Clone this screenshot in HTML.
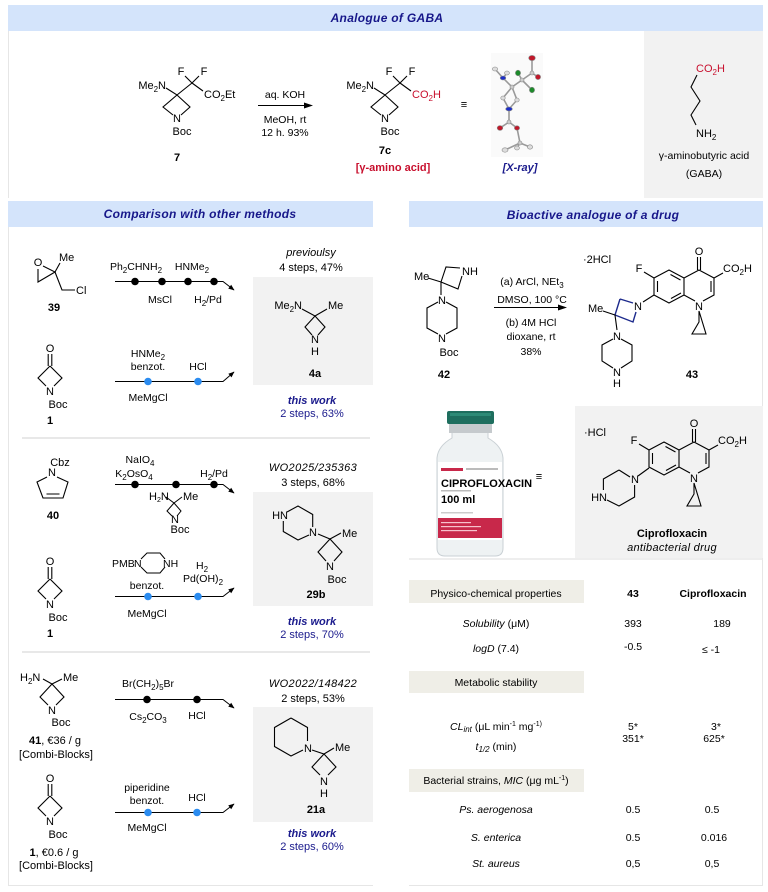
<!DOCTYPE html>
<html><head><meta charset="utf-8">
<style>
html,body{margin:0;padding:0;background:#fff;}
svg{display:block;}
text{font-family:"Liberation Sans",Arial,sans-serif;font-size:11px;fill:#000;}
.c{text-anchor:middle;}
.e{text-anchor:end;}
.b{font-weight:bold;}
.i{font-style:italic;}
.hd{font-weight:bold;font-style:italic;font-size:12px;fill:#17178a;text-anchor:middle;letter-spacing:0.3px;}
.nv{fill:#1a1a8c;}
.rd{fill:#c8102e;}
.s{font-size:10.5px;}
.bd{stroke:#000;stroke-width:1.1;fill:none;}
.sq{stroke:#000;stroke-width:1;fill:none;}
.xb{stroke:#9a9a9a;stroke-width:1.6;fill:none;}
</style></head><body>
<svg width="768" height="892" viewBox="0 0 768 892" xmlns="http://www.w3.org/2000/svg">
<defs>
<marker id="a" viewBox="0 0 10 10" refX="9" refY="5" markerWidth="7" markerHeight="6" markerUnits="userSpaceOnUse" orient="auto"><path d="M0,1 L10,5 L0,9 z" fill="#000"/></marker>
</defs>

<!-- ===== Panels ===== -->
<rect x="8" y="5" width="755" height="26" fill="#d4e4fb"/>
<line x1="8.5" y1="31" x2="8.5" y2="198" stroke="#e6e6e6"/>
<rect x="644" y="31" width="119" height="167" fill="#f2f2f2"/>
<text class="hd" x="387" y="22">Analogue of GABA</text>

<rect x="8" y="201" width="365" height="26" fill="#d4e4fb"/>
<text class="hd" x="200" y="218">Comparison with other methods</text>
<line x1="8.5" y1="227" x2="8.5" y2="885" stroke="#e6e6e6"/>
<line x1="8" y1="885.5" x2="373" y2="885.5" stroke="#e6e6e6"/>
<line x1="22" y1="438" x2="370" y2="438" stroke="#e8e8e8" stroke-width="2"/>
<line x1="22" y1="652" x2="370" y2="652" stroke="#e8e8e8" stroke-width="2"/>

<rect x="409" y="201" width="354" height="26" fill="#d4e4fb"/>
<text class="hd" x="593" y="219">Bioactive analogue of a drug</text>
<line x1="762.5" y1="227" x2="762.5" y2="885" stroke="#e6e6e6"/>
<line x1="409" y1="885.5" x2="763" y2="885.5" stroke="#e6e6e6"/>
<line x1="409" y1="559" x2="763" y2="559" stroke="#e8e8e8" stroke-width="1.5"/>
<rect x="575" y="406" width="188" height="152" fill="#f2f2f2"/>

<!-- ===== Top: compound 7 ===== -->
<text class="e" x="166" y="89">Me<tspan font-size="8" dy="3">2</tspan><tspan dy="-3">N</tspan></text>
<path class="bd" d="M166,88 L177,95 L192,83 M177,95 L163,107 L173,115 M177,95 L190,107 L181,115 M192,83 L185,76 M192,83 L199,76 M192,83 L203,91"/>
<text class="c" x="181" y="75">F</text>
<text class="c" x="204" y="75">F</text>
<text x="204" y="98">CO<tspan font-size="8" dy="3">2</tspan><tspan dy="-3">Et</tspan></text>
<text class="c" x="177" y="122">N</text>
<text class="c" x="182" y="135">Boc</text>
<text class="c b" x="177" y="161">7</text>

<!-- arrow -->
<line x1="258" y1="105.5" x2="305" y2="105.5" stroke="#000" stroke-width="1"/>
<path d="M313,105.5 L304,102.5 L304,108.5 z" fill="#000"/>
<text class="c s" x="285" y="98">aq. KOH</text>
<text class="c s" x="285" y="123">MeOH, rt</text>
<text class="c s" x="285" y="136">12 h. 93%</text>

<!-- compound 7c -->
<text class="e" x="374" y="89">Me<tspan font-size="8" dy="3">2</tspan><tspan dy="-3">N</tspan></text>
<path class="bd" d="M374,88 L385,95 L400,83 M385,95 L371,107 L381,115 M385,95 L398,107 L389,115 M400,83 L393,76 M400,83 L407,76 M400,83 L411,91"/>
<text class="c" x="389" y="75">F</text>
<text class="c" x="412" y="75">F</text>
<text class="rd" x="412" y="98">CO<tspan font-size="8" dy="3">2</tspan><tspan dy="-3">H</tspan></text>
<text class="c" x="385" y="122">N</text>
<text class="c" x="390" y="135">Boc</text>
<text class="c b" x="385" y="154">7c</text>
<text class="c b rd" x="393" y="171" font-size="10.5">[γ-amino acid]</text>

<text class="c" x="464" y="108" fill="#666">≡</text>

<!-- X-ray -->
<rect x="491" y="53" width="52" height="104" fill="#fafafa"/>
<path class="xb" d="M495,69 L503,78 M507,73 L503,78 L512,87 L522,80 L518,73 M522,80 L532,90 M522,80 L532,73 L532,58 M532,73 L538,77 M512,87 L503,98 L509,109 M512,87 L517,100 L509,109 L509,122 L500,128 M509,122 L517,128 L520,143 L505,150 M520,143 L517,148 M520,143 L530,147"/>
<g stroke="#888" stroke-width="0.6">
<ellipse cx="532" cy="58" rx="3.3" ry="2.6" fill="#c0182a"/>
<ellipse cx="538" cy="77" rx="2.6" ry="2.6" fill="#c0182a"/>
<ellipse cx="532" cy="73" rx="2" ry="2" fill="#ccc"/>
<ellipse cx="518" cy="73" rx="2.6" ry="2.8" fill="#1c8a2a"/>
<ellipse cx="532" cy="90" rx="2.6" ry="2.8" fill="#1c8a2a"/>
<ellipse cx="522" cy="80" rx="2" ry="2" fill="#ccc"/>
<ellipse cx="512" cy="87" rx="2" ry="2" fill="#ccc"/>
<ellipse cx="503" cy="78" rx="2.8" ry="2" fill="#1c2ec8"/>
<ellipse cx="495" cy="69" rx="2.6" ry="2" fill="#ddd"/>
<ellipse cx="507" cy="73" rx="2.4" ry="2" fill="#ddd"/>
<ellipse cx="503" cy="98" rx="2.2" ry="2" fill="#ddd"/>
<ellipse cx="517" cy="100" rx="2.2" ry="2" fill="#ddd"/>
<ellipse cx="509" cy="109" rx="3.3" ry="2" fill="#1c2ec8"/>
<ellipse cx="509" cy="122" rx="2" ry="2" fill="#ccc"/>
<ellipse cx="500" cy="128" rx="2.8" ry="2.4" fill="#c0182a"/>
<ellipse cx="517" cy="128" rx="2.6" ry="2.2" fill="#c0182a"/>
<ellipse cx="520" cy="143" rx="2" ry="2" fill="#ccc"/>
<ellipse cx="505" cy="150" rx="3" ry="2.2" fill="#ddd"/>
<ellipse cx="517" cy="148" rx="2.4" ry="2" fill="#ddd"/>
<ellipse cx="530" cy="147" rx="2.6" ry="2.2" fill="#ddd"/>
</g>
<text class="c b i nv" x="520" y="171" font-size="10.5">[X-ray]</text>

<!-- GABA -->
<text class="rd" x="696" y="72">CO<tspan font-size="8" dy="3">2</tspan><tspan dy="-3">H</tspan></text>
<path class="bd" d="M697,75 L691,87 L700,101 L691,115 L696,125"/>
<text x="696" y="137">NH<tspan font-size="8" dy="3">2</tspan></text>
<text class="c s" x="704" y="159">γ-aminobutyric acid</text>
<text class="c s" x="704" y="177">(GABA)</text>

<!-- ===== Section 1 ===== -->
<!-- 39 -->
<text class="c" x="38" y="266">O</text>
<text x="59" y="261">Me</text>
<path class="bd" d="M43,266 L55,272 L38,282 L38,269 M55,272 L60,263 M55,272 L62,290 L75,290"/>
<text x="76" y="294">Cl</text>
<text class="c b" x="54" y="311">39</text>

<path d="M115,281.5 H223 L234,290" stroke="#000" stroke-width="1" fill="none" marker-end="url(#a)"/>
<circle cx="135" cy="281.5" r="3.8"/><circle cx="162" cy="281.5" r="3.8"/><circle cx="188" cy="281.5" r="3.8"/><circle cx="214" cy="281.5" r="3.8"/>
<text class="c s" x="136" y="270">Ph<tspan font-size="8" dy="3">2</tspan><tspan dy="-3">CHNH</tspan><tspan font-size="8" dy="3">2</tspan></text>
<text class="c s" x="192" y="270">HNMe<tspan font-size="8" dy="3">2</tspan></text>
<text class="c s" x="160" y="303">MsCl</text>
<text class="c s" x="208" y="303">H<tspan font-size="8" dy="3">2</tspan><tspan dy="-3">/Pd</tspan></text>

<text class="c i" x="311" y="256">previoulsy</text>
<text class="c" x="311" y="271">4 steps, 47%</text>
<rect x="253" y="277" width="120" height="108" fill="#f2f2f2"/>
<text class="e" x="302" y="309">Me<tspan font-size="8" dy="3">2</tspan><tspan dy="-3">N</tspan></text>
<text x="328" y="309">Me</text>
<path class="bd" d="M302,309 L315,316 L327,309 M315,316 L305,327 L312,335 M315,316 L325,327 L318,335"/>
<text class="c" x="315" y="343">N</text>
<text class="c" x="315" y="355">H</text>
<text class="c b" x="315" y="377">4a</text>
<text class="c b i nv" x="312" y="404">this work</text>
<text class="c nv" x="312" y="417">2 steps, 63%</text>

<!-- 1 (a) -->
<text class="c" x="50" y="352">O</text>
<path class="bd" d="M48.2,354 V366 M51.8,354 V366 M50,366 L38,378 L46,386 M50,366 L62,378 L54,386"/>
<text class="c" x="50" y="395">N</text>
<text class="c" x="58" y="408">Boc</text>
<text class="c b" x="50" y="424">1</text>

<path d="M115,381.5 H223 L234,372" stroke="#000" stroke-width="1" fill="none" marker-end="url(#a)"/>
<circle cx="148" cy="381.5" r="3.8" fill="#2b8cf0"/><circle cx="198" cy="381.5" r="3.8" fill="#2b8cf0"/>
<text class="c s" x="148" y="357">HNMe<tspan font-size="8" dy="3">2</tspan></text>
<text class="c s" x="148" y="370">benzot.</text>
<text class="c s" x="198" y="370">HCl</text>
<text class="c s" x="148" y="401">MeMgCl</text>

<!-- ===== Section 2 ===== -->
<text class="c" x="60" y="466">Cbz</text>
<text class="c" x="52" y="476">N</text>
<path class="bd" d="M47,477 L37,482 L43,498 L63,498 L68,482 L57,477 M46.5,494 L59.5,494"/>
<text class="c b" x="53" y="519">40</text>

<path d="M115,484.5 H223 L234,493" stroke="#000" stroke-width="1" fill="none" marker-end="url(#a)"/>
<circle cx="135" cy="484.5" r="3.8"/><circle cx="176" cy="484.5" r="3.8"/><circle cx="214" cy="484.5" r="3.8"/>
<text class="c s" x="140" y="463">NaIO<tspan font-size="8" dy="3">4</tspan></text>
<text class="c s" x="134" y="477">K<tspan font-size="8" dy="3">2</tspan><tspan dy="-3">OsO</tspan><tspan font-size="8" dy="3">4</tspan></text>
<text class="c s" x="214" y="477">H<tspan font-size="8" dy="3">2</tspan><tspan dy="-3">/Pd</tspan></text>
<text font-size="9" x="149" y="500">H<tspan font-size="7" dy="2">2</tspan><tspan dy="-2">N</tspan></text>
<text font-size="9" x="183" y="500">Me</text>
<path class="sq" d="M166,497 L174,503 L182,497 M174,503 L167,511 L172,516 M174,503 L181,511 L177,516"/>
<text font-size="9" class="c" x="175" y="523">N</text>
<text font-size="9" class="c" x="180" y="533">Boc</text>

<text class="c i" x="313" y="471" letter-spacing="0.4">WO2025/235363</text>
<text class="c" x="313" y="486">3 steps, 68%</text>
<rect x="253" y="492" width="120" height="114" fill="#f2f2f2"/>
<text class="e" x="288" y="519">HN</text>
<path class="bd" d="M287,512 L298,506 L312.7,514.5 L312.7,527 M309,535 L298,540 L283.3,531.5 L283.3,521"/>
<text class="c" x="313" y="536">N</text>
<path class="bd" d="M318,534 L330,539 L341,533 M330,539 L318,552 L326,561 M330,539 L342,552 L334,561"/>
<text x="342" y="537">Me</text>
<text class="c" x="330" y="570">N</text>
<text class="c" x="337" y="583">Boc</text>
<text class="c b" x="316" y="598">29b</text>
<text class="c b i nv" x="312" y="625">this work</text>
<text class="c nv" x="312" y="638">2 steps, 70%</text>

<!-- 1 (b) -->
<text class="c" x="50" y="565">O</text>
<path class="bd" d="M48.2,567 V579 M51.8,567 V579 M50,579 L38,591 L46,599 M50,579 L62,591 L54,599"/>
<text class="c" x="50" y="608">N</text>
<text class="c" x="58" y="621">Boc</text>
<text class="c b" x="50" y="637">1</text>

<path d="M115,596.5 H223 L234,588" stroke="#000" stroke-width="1" fill="none" marker-end="url(#a)"/>
<circle cx="148" cy="596.5" r="3.8" fill="#2b8cf0"/><circle cx="198" cy="596.5" r="3.8" fill="#2b8cf0"/>
<text class="s" x="112" y="567" font-size="10">PMB</text>
<text class="s" x="134" y="567" font-size="10">N</text>
<text class="s" x="163" y="567" font-size="10">NH</text>
<path class="sq" d="M141,559 L147,553 L160,553 L165,559 M141,567 L147,573 L160,573 L165,567"/>
<text class="c s" x="147" y="589">benzot.</text>
<text class="c s" x="147" y="617">MeMgCl</text>
<text class="c s" x="202" y="569">H<tspan font-size="8" dy="3">2</tspan></text>
<text class="c s" x="203" y="582">Pd(OH)<tspan font-size="8" dy="3">2</tspan></text>

<!-- ===== Section 3 ===== -->
<text x="20" y="681">H<tspan font-size="8" dy="3">2</tspan><tspan dy="-3">N</tspan></text>
<text x="63" y="681">Me</text>
<path class="bd" d="M43,679 L52,684 L62,679 M52,684 L40,697 L48,705 M52,684 L64,697 L56,705"/>
<text class="c" x="52" y="714">N</text>
<text class="c" x="61" y="726">Boc</text>
<text class="c" x="55" y="744"><tspan font-weight="bold">41</tspan>, €36 / g</text>
<text class="c" x="56" y="758">[Combi-Blocks]</text>

<path d="M115,699.5 H223 L234,708" stroke="#000" stroke-width="1" fill="none" marker-end="url(#a)"/>
<circle cx="147" cy="699.5" r="3.8"/><circle cx="197" cy="699.5" r="3.8"/>
<text class="c s" x="148" y="687">Br(CH<tspan font-size="8" dy="3">2</tspan><tspan dy="-3">)</tspan><tspan font-size="8" dy="3">5</tspan><tspan dy="-3">Br</tspan></text>
<text class="c s" x="148" y="720">Cs<tspan font-size="8" dy="3">2</tspan><tspan dy="-3">CO</tspan><tspan font-size="8" dy="3">3</tspan></text>
<text class="c s" x="197" y="719">HCl</text>

<text class="c i" x="313" y="687" letter-spacing="0.4">WO2022/148422</text>
<text class="c" x="313" y="702">2 steps, 53%</text>
<rect x="253" y="707" width="120" height="115" fill="#f2f2f2"/>
<path class="bd" d="M291,718 L307.5,727.5 L307.5,741 M303,750 L291,756 L274.5,746.5 L274.5,727.5 L291,718"/>
<text class="c" x="308" y="752">N</text>
<path class="bd" d="M312,750 L324,754 L334,748 M324,754 L312,767 L320,775 M324,754 L336,767 L328,775"/>
<text x="335" y="751">Me</text>
<text class="c" x="324" y="785">N</text>
<text class="c" x="324" y="797">H</text>
<text class="c b" x="316" y="813">21a</text>
<text class="c b i nv" x="312" y="837">this work</text>
<text class="c nv" x="312" y="850">2 steps, 60%</text>

<!-- 1 (c) -->
<text class="c" x="50" y="782">O</text>
<path class="bd" d="M48.2,784 V796 M51.8,784 V796 M50,796 L38,808 L46,816 M50,796 L62,808 L54,816"/>
<text class="c" x="50" y="825">N</text>
<text class="c" x="58" y="838">Boc</text>
<text class="c" x="54" y="856"><tspan font-weight="bold">1</tspan>, €0.6 / g</text>
<text class="c" x="56" y="869">[Combi-Blocks]</text>

<path d="M115,812.5 H223 L234,804" stroke="#000" stroke-width="1" fill="none" marker-end="url(#a)"/>
<circle cx="148" cy="812.5" r="3.8" fill="#2b8cf0"/><circle cx="197" cy="812.5" r="3.8" fill="#2b8cf0"/>
<text class="c s" x="147" y="791">piperidine</text>
<text class="c s" x="147" y="804">benzot.</text>
<text class="c s" x="197" y="801">HCl</text>
<text class="c s" x="147" y="831">MeMgCl</text>

<!-- ===== Right: 42 -> 43 ===== -->
<text x="414" y="280">Me</text>
<path class="bd" d="M428,278 L441,282 L446,267 L460,268 M441,282 L458,289 L462,276 M441,282 L441,295"/>
<text x="462" y="275">NH</text>
<text class="c" x="442" y="304">N</text>
<path class="bd" d="M446,302 L457,308 L457,328 L446,334 M438,334 L427,328 L427,308 L438,302"/>
<text class="c" x="442" y="342">N</text>
<text class="c" x="449" y="356">Boc</text>
<text class="c b" x="444" y="378">42</text>

<line x1="494" y1="307.5" x2="559" y2="307.5" stroke="#000" stroke-width="1"/>
<path d="M567,307.5 L558,304.5 L558,310.5 z" fill="#000"/>
<text class="c s" x="532" y="285">(a) ArCl, NEt<tspan font-size="8" dy="3">3</tspan></text>
<text class="c s" x="532" y="303">DMSO, 100 °C</text>
<text class="c s" x="531" y="326">(b) 4M HCl</text>
<text class="c s" x="531" y="340">dioxane, rt</text>
<text class="c s" x="531" y="355">38%</text>

<text class="c" x="597" y="263" font-size="9" fill="#777">·2HCl</text>
<!-- quinolone core for 43 -->
<g id="core">
<text class="c" x="639" y="272">F</text>
<path class="bd" d="M644,272 L654,278 M669,270 L684,278 L684,295 L669,303 L654,295 L654,278 Z M670.5,274.5 L680.5,280 M681,293 L671,298.5 M657.5,281 V292 M684,278 L699,270 L714,278 L714,295 L703,301 M684,295 L695,301 M697.5,270 V257 M700.5,270 V257 M711,281 V292 M714,278 L723,273 M699,311 V322 L692,334 H706 Z"/>
<text class="c" x="699" y="255">O</text>
<text x="723" y="272">CO<tspan font-size="8" dy="3">2</tspan><tspan dy="-3">H</tspan></text>
<text class="c" x="699" y="310">N</text>
</g>
<path class="bd" d="M654,295 L643,302"/>
<path d="M620,299 L633,303 M620,299 L615,315 L633,322 L636,312" stroke="#1d2a8c" stroke-width="1.4" fill="none"/>
<text class="c" x="638" y="310">N</text>
<text x="588" y="312">Me</text>
<path class="bd" d="M603,311 L615,315 L617,330 M621,339 L632,345 L632,361 L621,368 M613,368 L602,361 L602,345 L613,339"/>
<text class="c" x="617" y="340">N</text>
<text class="c" x="617" y="376">N</text>
<text class="c" x="617" y="387">H</text>
<text class="c b" x="692" y="378">43</text>

<!-- ===== Vial ===== -->
<path d="M452,432 L452,438 Q438,446 437,458 L437,548 Q437,556 445,556 L495,556 Q503,556 503,548 L503,458 Q502,446 488,438 L488,432 Z" fill="#eef2f3" stroke="#c9d0d4"/>
<rect x="449" y="423" width="43" height="10" fill="#c5cacd"/>
<rect x="447" y="411" width="47" height="13" rx="2" fill="#1e6e5e"/>
<rect x="450" y="413" width="41" height="3" fill="#2d8a76"/>
<rect x="438" y="462" width="64" height="78" fill="#ffffff"/>
<rect x="441" y="468" width="22" height="3" fill="#c8284a"/>
<rect x="466" y="468" width="32" height="2" fill="#bbb"/>
<text x="441" y="487" font-size="6.5" font-weight="bold" fill="#444">CIPROFLOXACIN</text>
<rect x="441" y="490" width="30" height="1.5" fill="#bbb"/>
<text x="441" y="503" font-size="6" font-weight="bold" fill="#444">100 ml</text>
<rect x="441" y="512" width="32" height="1.5" fill="#ccc"/>
<rect x="438" y="518" width="64" height="20" fill="#c8284a"/>
<rect x="441" y="522" width="30" height="1.2" fill="#f7c0cc"/>
<rect x="441" y="526" width="40" height="1.2" fill="#f7c0cc"/>
<rect x="441" y="530" width="36" height="1.2" fill="#f7c0cc"/>

<text class="c" x="539" y="480" fill="#666">≡</text>

<!-- ===== Ciprofloxacin ===== -->
<text x="584" y="436" font-size="9" fill="#777">·HCl</text>
<use href="#core" transform="translate(-5,172)"/>
<path class="bd" d="M649,468 L638,476 M619,470 L630,477 M619,470 L603.4,479 L603.4,490 M607,500 L619,506 L634.6,497 L634.6,485"/>
<text class="c" x="635" y="483">N</text>
<text class="e" x="607" y="501">HN</text>
<text class="c b" x="672" y="537">Ciprofloxacin</text>
<text class="c i" x="672" y="551" letter-spacing="0.3">antibacterial drug</text>

<!-- ===== Table ===== -->
<rect x="409" y="580" width="175" height="23" fill="#efeee7"/>
<rect x="409" y="671" width="175" height="22" fill="#efeee7"/>
<rect x="409" y="769" width="175" height="23" fill="#efeee7"/>
<g font-size="10.5">
<text class="c s" x="496" y="597">Physico-chemical properties</text>
<text class="c s b" x="633" y="597">43</text>
<text class="c s b" x="713" y="597" font-size="11">Ciprofloxacin</text>
<text class="c s" x="496" y="627"><tspan font-style="italic">Solubility</tspan> (μM)</text>
<text class="c s" x="633" y="627">393</text>
<text class="c s" x="722" y="627">189</text>
<text class="c s" x="496" y="652"><tspan font-style="italic">logD</tspan> (7.4)</text>
<text class="c s" x="633" y="650">-0.5</text>
<text class="c s" x="711" y="653">≤ -1</text>
<text class="c s" x="496" y="686">Metabolic stability</text>
<text class="c s" x="496" y="730"><tspan font-style="italic">CL</tspan><tspan font-style="italic" font-size="8" dy="2">int</tspan><tspan dy="-2"> (μL min</tspan><tspan font-size="7" dy="-4">-1</tspan><tspan dy="4"> mg</tspan><tspan font-size="7" dy="-4">-1)</tspan></text>
<text class="c s" x="633" y="730">5*</text>
<text class="c s" x="716" y="730">3*</text>
<text class="c s" x="496" y="750"><tspan font-style="italic">t</tspan><tspan font-style="italic" font-size="8" dy="2">1/2</tspan><tspan dy="-2"> (min)</tspan></text>
<text class="c s" x="633" y="742">351*</text>
<text class="c s" x="714" y="742">625*</text>
<text class="c s" x="496" y="784">Bacterial strains, <tspan font-style="italic">MIC</tspan> (μg mL<tspan font-size="7" dy="-4">-1</tspan><tspan dy="4">)</tspan></text>
<text class="c s i" x="496" y="813">Ps. aerogenosa</text>
<text class="c s" x="633" y="813">0.5</text>
<text class="c s" x="712" y="813">0.5</text>
<text class="c s i" x="496" y="841">S. enterica</text>
<text class="c s" x="633" y="841">0.5</text>
<text class="c s" x="714" y="841">0.016</text>
<text class="c s i" x="496" y="867">St. aureus</text>
<text class="c s" x="633" y="867">0,5</text>
<text class="c s" x="712" y="867">0,5</text>
</g>
</svg>
</body></html>
